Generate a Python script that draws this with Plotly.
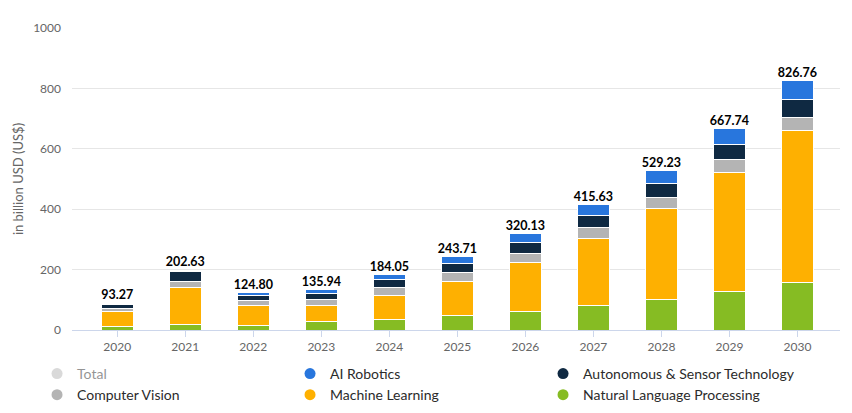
import plotly.graph_objects as go

years = ["2020", "2021", "2022", "2023", "2024", "2025", "2026", "2027", "2028", "2029", "2030"]
totals = [93.27, 202.63, 124.80, 135.94, 184.05, 243.71, 320.13, 415.63, 529.23, 667.74, 826.76]
nlp = [11.0, 17.0, 15.4, 28.6, 35.2, 48.5, 61.7, 81.5, 101.4, 128.9, 157.6]
ml = [50.5, 122.5, 66.0, 52.7, 79.0, 112.4, 162.0, 221.5, 300.8, 391.2, 501.4]
cv = [9.5, 22.0, 15.4, 18.7, 26.4, 29.7, 29.7, 36.4, 36.4, 44.1, 46.2]
ast = [15.0, 32.0, 17.6, 19.8, 26.4, 29.8, 36.4, 39.7, 45.1, 49.6, 57.3]
rob = [0.0, 5.0, 8.8, 13.2, 15.4, 23.3, 30.3, 36.6, 45.5, 53.9, 64.3]

C_BLUE = "#2876dd"
C_NAVY = "#0f2942"
C_GRAY = "#b4b4b4"
C_ORANGE = "#feb001"
C_GREEN = "#86bc23"

fig = go.Figure()

# legend entries (circle markers)
legend_items = [
    ("Total", "#b4b4b4", "legendonly"),
    ("AI Robotics", C_BLUE, True),
    ("Autonomous & Sensor Technology", C_NAVY, True),
    ("Computer Vision", C_GRAY, True),
    ("Machine Learning", C_ORANGE, True),
    ("Natural Language Processing", C_GREEN, True),
]
for name, col, vis in legend_items:
    fig.add_trace(go.Scatter(
        x=[None], y=[None], mode="markers", name=name, visible=vis,
        marker=dict(symbol="circle", size=11, color=col),
        legendgroup=name, hoverinfo="skip"))

series = [
    ("Natural Language Processing", nlp, C_GREEN),
    ("Machine Learning", ml, C_ORANGE),
    ("Computer Vision", cv, C_GRAY),
    ("Autonomous & Sensor Technology", ast, C_NAVY),
    ("AI Robotics", rob, C_BLUE),
]
for name, vals, col in series:
    fig.add_trace(go.Bar(
        x=years, y=vals, name=name, legendgroup=name, showlegend=False,
        marker=dict(color=col, line=dict(color="white", width=1))))

fig.add_trace(go.Scatter(
    x=years, y=totals, mode="text", showlegend=False,
    text=[f"{v:.2f}" for v in totals], textposition="top center",
    textfont=dict(family="Lato", size=12.5, color="#000000", weight="bold"),
    hoverinfo="skip"))

fig.update_layout(
    width=844, height=405,
    margin=dict(l=64, r=12, t=20, b=83, autoexpand=False),
    paper_bgcolor="white", plot_bgcolor="white",
    barmode="stack", bargap=0.53,
    font=dict(family="Lato", size=12, color="#666666"),
    showlegend=True,
    legend=dict(
        orientation="h", xref="container", yref="container",
        x=0.0344, y=0.136, xanchor="left", yanchor="top",
        entrywidth=208, entrywidthmode="pixels", tracegroupgap=0,
        font=dict(family="Lato", size=14, color="#2b2b2b"),
        itemclick=False, itemdoubleclick=False,
        bgcolor="rgba(0,0,0,0)"),
    xaxis=dict(
        type="category", range=[-0.665, 10.625],
        showgrid=False, showline=True, linecolor="#ccd6eb", linewidth=1,
        ticks="outside", ticklen=6, tickcolor="#ccd6eb",
        tickfont=dict(family="Lato", size=12, color="#666666")),
    yaxis=dict(
        range=[0, 1000], tickvals=[0, 200, 400, 600, 800, 1000],
        showgrid=True, gridcolor="#e6e6e6", gridwidth=1, zeroline=False,
        ticks="", ticklabelstandoff=10,
        tickfont=dict(family="Lato", size=12, color="#666666"),
        title=dict(text="in billion USD (US$)", standoff=6,
                   font=dict(family="Lato", size=13, color="#666666"))),
)

fig.write_html("out.html")
